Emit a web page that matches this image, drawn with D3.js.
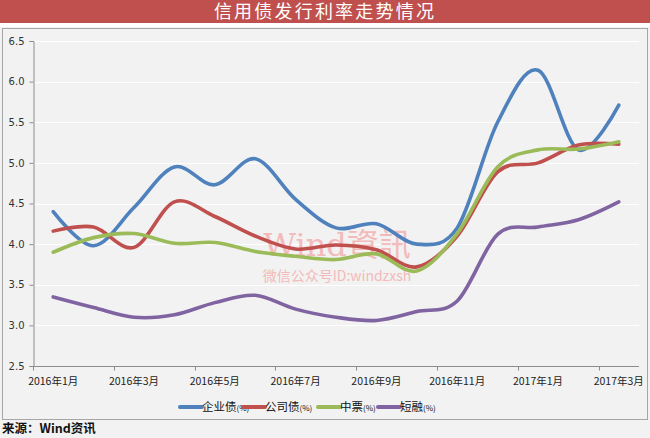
<!DOCTYPE html>
<html>
<head>
<meta charset="utf-8">
<script src="https://cdn.jsdelivr.net/npm/d3@7"></script>
<style>
	body { margin: 0; background: #f2f2f2; }
	svg { display: block; font-family: "Noto Sans CJK SC", "DejaVu Sans", sans-serif; }
</style>
</head>
<body>
<div id="chart"></div>
<script>
// months on the x axis
const months = ["2016年1月","2016年2月","2016年3月","2016年4月","2016年5月","2016年6月","2016年7月",
	"2016年8月","2016年9月","2016年10月","2016年11月","2016年12月","2017年1月","2017年2月","2017年3月"];
const yTicks = [2.5, 3.0, 3.5, 4.0, 4.5, 5.0, 5.5, 6.0, 6.5];

const seriesNames = ["企业债", "公司债", "中票", "短融"];
const qiyezhai  = [4.40, 3.98, 4.45, 4.95, 4.73, 5.05, 4.55, 4.20, 4.25, 4.00, 4.20, 5.50, 6.14, 5.16, 5.71];
const gongsizhai = [4.16, 4.21, 3.96, 4.52, 4.34, 4.10, 3.94, 3.99, 3.93, 3.72, 4.10, 4.89, 5.00, 5.22, 5.23];
const zhongpiao = [3.90, 4.08, 4.13, 4.01, 4.02, 3.91, 3.85, 3.81, 3.88, 3.67, 4.13, 4.95, 5.16, 5.17, 5.26];
const duanrong  = [3.35, 3.22, 3.10, 3.13, 3.28, 3.37, 3.20, 3.10, 3.06, 3.17, 3.30, 4.12, 4.21, 4.30, 4.52];

let
	width = 650,
	height = 438,
	colors = ["#4f81bd", "#c0504d", "#9bbb59", "#8064a2"],
	seriesData = [qiyezhai, gongsizhai, zhongpiao, duanrong],
	svg = d3.select("#chart").append("svg")
		.attr("width", width)
		.attr("height", height),
	x = d3.scaleBand().domain(months).range([33, 639]),
	y = d3.scaleLinear().domain([2.5, 6.5]).range([366, 41])

// title bar
svg.append("rect").attr("x", 0).attr("y", 0).attr("width", width).attr("height", 23).attr("fill", "#c0504d")
svg.append("rect").attr("x", 0).attr("y", 23).attr("width", width).attr("height", 4).attr("fill", "#ffffff")
svg.append("text")
	.attr("x", width / 2).attr("y", 18)
	.attr("text-anchor", "middle")
	.attr("fill", "#fff")
	.attr("font-size", 18)
	.attr("letter-spacing", 2.2)
	.text("信用债发行利率走势情况")

// chart frame
svg.append("rect")
	.attr("x", 2.5).attr("y", 28.5).attr("width", 645).attr("height", 391)
	.attr("fill", "#f2f2f2").attr("stroke", "#a6a6a6")

// grid
svg.append("g").selectAll("line")
	.data(yTicks.slice(1))
	.join("line")
	.attr("x1", 33).attr("x2", 639)
	.attr("y1", d => Math.round(y(d)) + 0.5).attr("y2", d => Math.round(y(d)) + 0.5)
	.attr("stroke", "#ffffff").attr("stroke-width", 1.2)

// watermark
svg.append("text")
	.attr("x", 337).attr("y", 256)
	.attr("text-anchor", "middle")
	.attr("fill", "#f2a8a8").attr("opacity", 0.75)
	.attr("font-family", "'DejaVu Serif', 'Noto Sans CJK TC', serif")
	.attr("font-size", 32)
	.text("Wind資訊")
svg.append("text")
	.attr("x", 337).attr("y", 281)
	.attr("text-anchor", "middle")
	.attr("fill", "#f2a8a8").attr("opacity", 0.75)
	.attr("font-family", "'Noto Sans CJK SC', serif")
	.attr("font-size", 14)
	.text("微信公众号ID:windzxsh")

// y axis
let yAxis = svg.append("g")
	.attr("transform", "translate(33.5,0)")
	.call(d3.axisLeft(y).tickValues(yTicks).tickFormat(d3.format(".1f")).tickSize(4).tickPadding(5))
yAxis.select(".domain").attr("stroke", "#8c8c8c")
yAxis.selectAll(".tick line").attr("stroke", "#8c8c8c")
yAxis.selectAll("text").attr("font-size", 10).attr("fill", "#333").attr("font-family", "'DejaVu Sans', sans-serif")

// x axis: ticks on band boundaries every 2 months, labels on odd months
let xAxisG = svg.append("g").attr("transform", "translate(0,366.5)")
xAxisG.append("line").attr("x1", 33).attr("x2", 639).attr("stroke", "#8c8c8c")
xAxisG.selectAll(".xt")
	.data(months.filter((d, i) => i % 2 === 0))
	.join("line")
	.attr("class", "xt")
	.attr("x1", d => Math.round(x(d)) + 0.5).attr("x2", d => Math.round(x(d)) + 0.5)
	.attr("y1", 0).attr("y2", 4)
	.attr("stroke", "#8c8c8c")
xAxisG.selectAll(".xl")
	.data(months.filter((d, i) => i % 2 === 0))
	.join("text")
	.attr("class", "xl")
	.attr("x", d => x(d) + x.bandwidth() / 2)
	.attr("y", 18)
	.attr("text-anchor", "middle")
	.attr("font-size", 10.5)
	.attr("fill", "#222")
	.text(d => d)

// lines
let line = d3.line()
	.x((d, i) => x(months[i]) + x.bandwidth() / 2)
	.y(d => y(d))
	.curve(d3.curveCardinal.tension(0))

svg.append("g").selectAll("path")
	.data(seriesData)
	.join("path")
	.attr("fill", "none")
	.attr("stroke", (d, i) => colors[i])
	.attr("stroke-width", 3.6)
	.attr("stroke-linecap", "round")
	.attr("d", line)

// legend
let legendX = [180, 243, 318, 378]
let legend = svg.append("g").selectAll("g")
	.data(seriesNames)
	.join("g")
	.attr("transform", (d, i) => `translate(${legendX[i]},407)`)
legend.append("line")
	.attr("x1", 0).attr("x2", 22)
	.attr("stroke", (d, i) => colors[i])
	.attr("stroke-width", 4)
	.attr("stroke-linecap", "round")
let lt = legend.append("text")
	.attr("x", 22).attr("y", 4)
	.attr("font-size", 11.5)
	.attr("fill", "#111")
lt.append("tspan").text(d => d)
lt.append("tspan").attr("font-size", 8).text("(%)")

// source
svg.append("text")
	.attr("x", 2).attr("y", 433)
	.attr("font-size", 12.5)
	.attr("font-weight", "bold")
	.attr("fill", "#111")
	.text("来源：Wind资讯")
</script>
</body>
</html>
